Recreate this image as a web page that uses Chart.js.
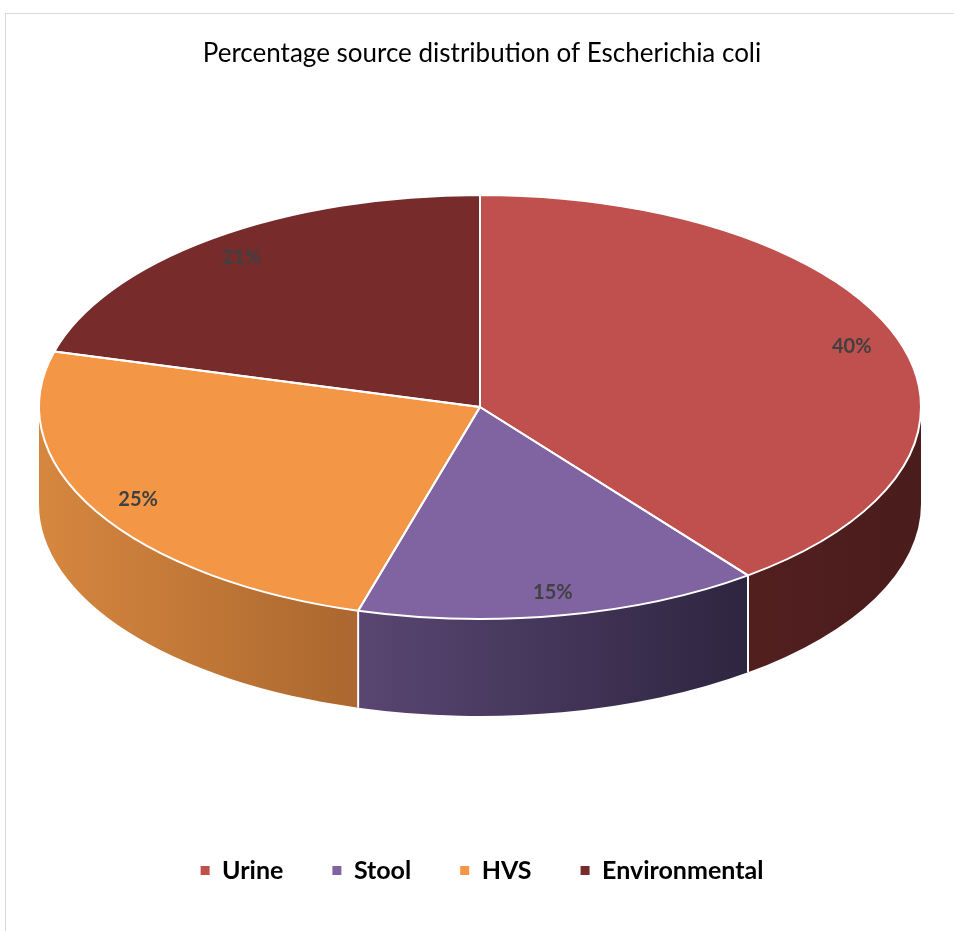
<!DOCTYPE html>
<html>
<head>
<meta charset="utf-8">
<script src="https://cdn.jsdelivr.net/npm/chart.js@4/dist/chart.umd.min.js"></script>
<style>
  html, body { margin: 0; padding: 0; background: #fff; }
  #frame { position: absolute; left: 5px; top: 13px; width: 970px; height: 940px; border: 1px solid #d9d9d9; box-sizing: border-box; }
  #c { position: absolute; left: 0; top: 0; }
</style>
</head>
<body>
<div id="frame"></div>
<canvas id="c" width="954" height="931"></canvas>
<script>
const titleText = 'Percentage source distribution of Escherichia coli';
const categories = ['Urine', 'Stool', 'HVS', 'Environmental'];
const values = [40, 15, 25, 21];
const topColors = ['#c0504d', '#8064a2', '#f39646', '#772b2b'];
const sideColors = [['#521f1f', '#4a1c1c'], ['#594672', '#2e2540'], ['#d6873f', '#ab672f'], ['#5a1f1f', '#4a1a1a']];

const GEO = { cx: 480, cy: 407, rx: 441, ry: 212, depth: 97, labelF: 0.89 };

const pie3d = {
  id: 'pie3d',
  beforeDatasetsDraw(chart) {
    const ctx = chart.ctx;
    const arcs = chart.getDatasetMeta(0).data;
    if (!arcs.length) return;
    const { cx, cy, rx, ry, depth } = GEO;
    // side walls (front half only)
    arcs.forEach((a, i) => {
      const t1 = Math.max(a.startAngle, 0);
      const t2 = Math.min(a.endAngle, Math.PI);
      if (t2 <= t1) return;
      ctx.save();
      ctx.beginPath();
      ctx.ellipse(cx, cy, rx, ry, 0, t1, t2, false);
      ctx.lineTo(cx + rx * Math.cos(t2), cy + depth + ry * Math.sin(t2));
      ctx.ellipse(cx, cy + depth, rx, ry, 0, t2, t1, true);
      ctx.closePath();
      const xa = cx + rx * Math.cos(t1), xb = cx + rx * Math.cos(t2);
      const g = ctx.createLinearGradient(Math.min(xa, xb), 0, Math.max(xa, xb), 0);
      g.addColorStop(0, sideColors[i][0]);
      g.addColorStop(1, sideColors[i][1]);
      ctx.fillStyle = g;
      ctx.fill();
      ctx.restore();
    });
    // white seams on side walls
    arcs.forEach((a) => {
      const s = a.startAngle;
      if (s > 0.001 && s < Math.PI - 0.001) {
        const x = cx + rx * Math.cos(s), y = cy + ry * Math.sin(s);
        ctx.save();
        ctx.strokeStyle = '#ffffff';
        ctx.lineWidth = 2;
        ctx.beginPath();
        ctx.moveTo(x, y);
        ctx.lineTo(x, y + depth);
        ctx.stroke();
        ctx.restore();
      }
    });
    const a0 = arcs[0];
    const r = a0.outerRadius;
    ctx.save();
    ctx.translate(cx, cy);
    ctx.scale(rx / r, ry / r);
    ctx.translate(-a0.x, -a0.y);
  },
  afterDatasetsDraw(chart) {
    const ctx = chart.ctx;
    const arcs = chart.getDatasetMeta(0).data;
    if (!arcs.length) return;
    // outlines, stroked with identity transform so line width is uniform
    arcs.forEach((a) => {
      ctx.beginPath();
      ctx.moveTo(a.x, a.y);
      ctx.arc(a.x, a.y, a.outerRadius, a.startAngle, a.endAngle);
      ctx.closePath();
      ctx.save();
      ctx.setTransform(1, 0, 0, 1, 0, 0);
      ctx.strokeStyle = '#ffffff';
      ctx.lineWidth = 2;
      ctx.lineJoin = 'round';
      ctx.stroke();
      ctx.restore();
    });
    ctx.restore();
    // data labels
    const { cx, cy, rx, ry, labelF } = GEO;
    const ds = chart.data.datasets[0].data;
    ctx.save();
    ctx.font = 'bold 20px Lato';
    ctx.fillStyle = '#404040';
    ctx.textAlign = 'center';
    ctx.textBaseline = 'middle';
    arcs.forEach((a, i) => {
      const t = (a.startAngle + a.endAngle) / 2;
      const x = cx + labelF * rx * Math.cos(t);
      const y = cy + labelF * ry * Math.sin(t);
      ctx.fillText(ds[i] + '%', x, y);
    });
    ctx.restore();
  }
};

new Chart(document.getElementById('c'), {
  type: 'pie',
  data: {
    labels: categories,
    datasets: [{
      data: values,
      backgroundColor: topColors,
      borderWidth: 0,
      clip: false
    }]
  },
  options: {
    responsive: false,
    animation: false,
    layout: { padding: { top: 0, bottom: 38, left: 10, right: 0 } },
    plugins: {
      title: {
        display: true,
        text: titleText,
        color: '#000000',
        font: { family: 'Lato', size: 26, weight: 'normal' },
        padding: { top: 38, bottom: 20 }
      },
      legend: {
        position: 'bottom',
        labels: {
          usePointStyle: true,
          pointStyle: 'rect',
          boxWidth: 9,
          boxHeight: 9,
          padding: 49,
          color: '#000000',
          font: { family: 'Lato', size: 25, weight: 'bold' }
        }
      },
      tooltip: { enabled: false }
    }
  },
  plugins: [pie3d]
});
</script>
</body>
</html>
